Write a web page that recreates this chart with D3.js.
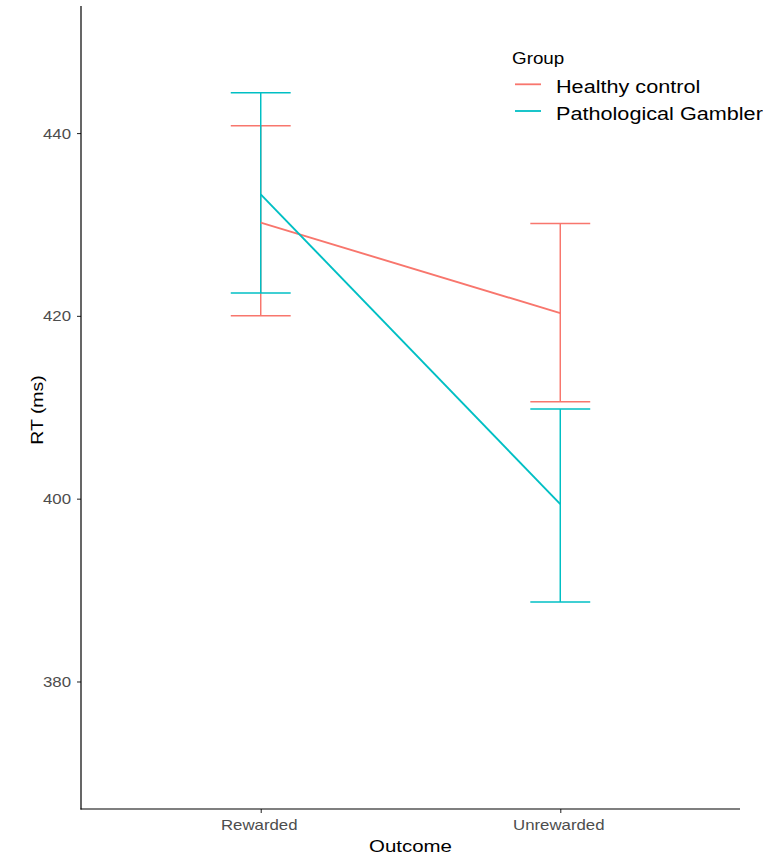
<!DOCTYPE html>
<html>
<head>
<meta charset="utf-8">
<script src="https://cdn.jsdelivr.net/npm/d3@7/dist/d3.min.js"></script>
<style>
  html, body { margin: 0; padding: 0; background: #fff; }
  svg { display: block; font-family: "Liberation Sans", Arial, sans-serif; }
</style>
</head>
<body>
<div id="chart"></div>
<script>
// Reaction time by outcome for each group (mean with error bars)
const outcomes = ["Rewarded", "Unrewarded"];
const groups = ["Healthy control", "Pathological Gambler"];
const groupColors = ["#F8766D", "#00BFC4"];

const healthyMean  = [430.2, 420.3];
const healthyLower = [420.0, 410.6];
const healthyUpper = [440.8, 430.1];

const gamblerMean  = [433.3, 399.4];
const gamblerLower = [422.5, 388.7];
const gamblerUpper = [444.4, 409.8];

const yTicks = [380, 400, 420, 440];
const yDomain = [366.05, 453.9];

const series = [
  { name: groups[0], color: groupColors[0], mean: healthyMean, lower: healthyLower, upper: healthyUpper },
  { name: groups[1], color: groupColors[1], mean: gamblerMean, lower: gamblerLower, upper: gamblerUpper }
];

const W = 763, H = 856;
const panel = { left: 81, right: 740, top: 6, bottom: 809 };
const textStretch = 1.2;

const svg = d3.select("#chart").append("svg")
  .attr("width", W).attr("height", H);

const x = d3.scalePoint().domain(outcomes)
  .range([panel.left, panel.right]).padding(0.6);
const y = d3.scaleLinear().domain(yDomain)
  .range([panel.bottom, panel.top]);

// helper: text with a slight horizontal widening in its own direction
function label(g, txt, px, py, opts) {
  const o = Object.assign({ size: 14, fill: "#000", anchor: "start", rotate: 0, sx: textStretch }, opts);
  return g.append("text")
    .attr("transform", `translate(${px},${py}) rotate(${o.rotate}) scale(${o.sx},1)`)
    .attr("text-anchor", o.anchor)
    .attr("font-size", o.size)
    .attr("fill", o.fill)
    .text(txt);
}

// y axis
const yAxis = svg.append("g")
  .attr("transform", `translate(${panel.left},0)`)
  .call(d3.axisLeft(y).tickValues(yTicks).tickSize(4).tickFormat(() => ""));
yAxis.select(".domain").remove();
yAxis.selectAll(".tick line").attr("stroke", "#333").attr("stroke-width", 1.1);
yAxis.selectAll(".tick").each(function(d) {
  label(d3.select(this), d3.format("d")(d), -10, 5, { size: 14, fill: "#4D4D4D", anchor: "end" });
});

// x axis
const xAxis = svg.append("g")
  .attr("transform", `translate(0,${panel.bottom})`)
  .call(d3.axisBottom(x).tickSize(4).tickFormat(() => ""));
xAxis.select(".domain").remove();
xAxis.selectAll(".tick line").attr("stroke", "#333").attr("stroke-width", 1.1);
xAxis.selectAll(".tick").each(function(d) {
  label(d3.select(this), d, -2, 21, { size: 14, fill: "#4D4D4D", anchor: "middle" });
});

// axis lines
svg.append("line")
  .attr("x1", panel.left).attr("x2", panel.left)
  .attr("y1", panel.top).attr("y2", panel.bottom + 0.5)
  .attr("stroke", "#000").attr("stroke-width", 1.2);
svg.append("line")
  .attr("x1", panel.left - 0.5).attr("x2", panel.right)
  .attr("y1", panel.bottom).attr("y2", panel.bottom)
  .attr("stroke", "#000").attr("stroke-width", 1.2);

// axis titles
label(svg, "Outcome", (panel.left + panel.right) / 2, 852, { size: 16.5, anchor: "middle", sx: 1.24 });
label(svg, "RT (ms)", 43, 410, { size: 16.2, anchor: "middle", rotate: -90, sx: 1.2 });

// error bars and mean lines
const capHalf = 0.1 * x.step();
const plot = svg.append("g");

series.forEach(s => {
  const g = plot.append("g").attr("stroke", s.color).attr("fill", "none");
  outcomes.forEach((o, i) => {
    const cx = x(o);
    g.append("line").attr("x1", cx).attr("x2", cx)
      .attr("y1", y(s.lower[i])).attr("y2", y(s.upper[i]))
      .attr("stroke-width", 1.5);
    [s.lower[i], s.upper[i]].forEach(v => {
      g.append("line").attr("x1", cx - capHalf).attr("x2", cx + capHalf)
        .attr("y1", y(v)).attr("y2", y(v))
        .attr("stroke-width", 1.5);
    });
  });
});

series.forEach(s => {
  plot.append("path")
    .datum(outcomes.map((o, i) => [x(o), y(s.mean[i])]))
    .attr("d", d3.line())
    .attr("fill", "none")
    .attr("stroke", s.color)
    .attr("stroke-width", 1.9);
});

// legend
const legend = svg.append("g").attr("transform", "translate(512,0)");
label(legend, "Group", 0, 64, { size: 16.5, sx: 1.14 });
const keyY = [84.3, 111];
const textY = [93, 120];
series.forEach((s, i) => {
  legend.append("line")
    .attr("x1", 3).attr("x2", 29)
    .attr("y1", keyY[i]).attr("y2", keyY[i])
    .attr("stroke", s.color).attr("stroke-width", 1.8);
  label(legend, s.name, 44, textY[i], { size: 18.5, sx: 1.17 });
});
</script>
</body>
</html>
